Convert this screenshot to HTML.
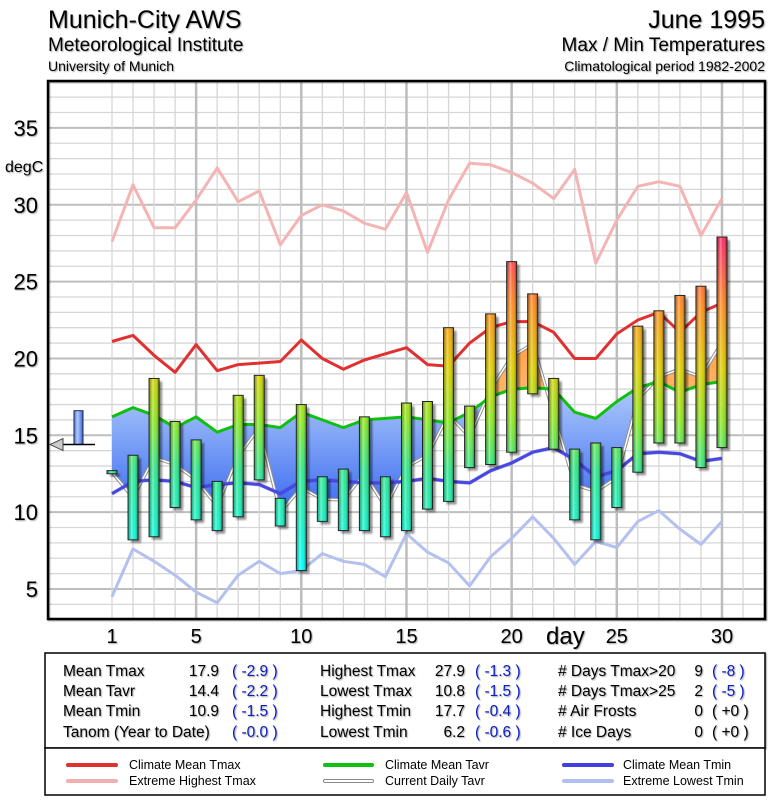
<!DOCTYPE html>
<html><head><meta charset="utf-8"><style>
body{margin:0;background:#fff;}
svg{display:block;font-family:"Liberation Sans",sans-serif;}
.sh{filter:drop-shadow(1px 1px 0.6px rgba(0,0,0,0.35));}
</style></head><body>
<svg id="chart" width="775" height="800" viewBox="0 0 775 800">
<defs>
<linearGradient id="barGrad" gradientUnits="userSpaceOnUse" x1="0" y1="574" x2="0" y2="231">
<stop offset="0" stop-color="#00ffff"/><stop offset="0.3" stop-color="#30e890"/>
<stop offset="0.45" stop-color="#90e820"/><stop offset="0.6" stop-color="#e0d000"/>
<stop offset="0.78" stop-color="#ff9020"/><stop offset="1" stop-color="#ff2070"/>
</linearGradient>
<linearGradient id="barShade" x1="0" y1="0" x2="1" y2="0">
<stop offset="0" stop-color="#000" stop-opacity="0.25"/><stop offset="0.35" stop-color="#fff" stop-opacity="0.35"/>
<stop offset="0.6" stop-color="#fff" stop-opacity="0"/><stop offset="1" stop-color="#000" stop-opacity="0.35"/>
</linearGradient>
<linearGradient id="blueFill" x1="0" y1="0" x2="0" y2="1">
<stop offset="0" stop-color="#d8ecff"/><stop offset="1" stop-color="#3a6af0"/>
</linearGradient>
<linearGradient id="orangeFill" x1="0" y1="0" x2="0" y2="1">
<stop offset="0" stop-color="#ffa040"/><stop offset="1" stop-color="#fff0d8"/>
</linearGradient>
<linearGradient id="legBar" x1="0" y1="0" x2="1" y2="0">
<stop offset="0" stop-color="#4a78e0"/><stop offset="0.4" stop-color="#b0ccff"/><stop offset="1" stop-color="#3a60d0"/>
</linearGradient>
<filter id="blur"><feGaussianBlur stdDeviation="1"/></filter>
<clipPath id="plotClip"><rect x="48" y="81" width="717" height="538"/></clipPath>
<clipPath id="belowGreen"><polygon id="belowPoly"/></clipPath>
<clipPath id="aboveGreen"><polygon id="abovePoly"/></clipPath>
</defs>

<g class="sh">
<text x="48" y="28" font-size="25">Munich-City AWS</text>
<text x="48" y="51" font-size="19">Meteorological Institute</text>
<text x="48" y="71" font-size="14">University of Munich</text>
<text x="765" y="28" font-size="25" text-anchor="end">June 1995</text>
<text x="765" y="51" font-size="19" text-anchor="end">Max / Min Temperatures</text>
<text x="765" y="71" font-size="14" text-anchor="end">Climatological period 1982-2002</text>
</g>

<g id="grid"></g>
<g id="series" clip-path="url(#plotClip)"></g>
<rect x="48" y="81" width="717" height="538" fill="none" stroke="#000" stroke-width="2.5" class="sh"/>
<g id="yticks" class="sh"></g>
<g id="xticks" class="sh"></g>
<text x="5" y="172" font-size="16" class="sh">degC</text>
<text x="546" y="644" font-size="24" class="sh">day</text>

<g>
<rect x="45" y="653" width="720" height="95" fill="#fff" stroke="#000" stroke-width="1.5" class="sh"/>
<g font-size="15.5" class="sh">
<text x="63" y="676">Mean Tmax</text><text x="219" y="676" text-anchor="end">17.9</text><text x="232" y="676" fill="#1020c0">( -2.9 )</text>
<text x="63" y="696">Mean Tavr</text><text x="219" y="696" text-anchor="end">14.4</text><text x="232" y="696" fill="#1020c0">( -2.2 )</text>
<text x="63" y="716">Mean Tmin</text><text x="219" y="716" text-anchor="end">10.9</text><text x="232" y="716" fill="#1020c0">( -1.5 )</text>
<text x="63" y="737">Tanom (Year to Date)</text><text x="232" y="737" fill="#1020c0">( -0.0 )</text>
<text x="320" y="676">Highest Tmax</text><text x="465" y="676" text-anchor="end">27.9</text><text x="475" y="676" fill="#1020c0">( -1.3 )</text>
<text x="320" y="696">Lowest Tmax</text><text x="465" y="696" text-anchor="end">10.8</text><text x="475" y="696" fill="#1020c0">( -1.5 )</text>
<text x="320" y="716">Highest Tmin</text><text x="465" y="716" text-anchor="end">17.7</text><text x="475" y="716" fill="#1020c0">( -0.4 )</text>
<text x="320" y="737">Lowest Tmin</text><text x="465" y="737" text-anchor="end">6.2</text><text x="475" y="737" fill="#1020c0">( -0.6 )</text>
<text x="558" y="676"># Days Tmax&gt;20</text><text x="703" y="676" text-anchor="end">9</text><text x="712" y="676" fill="#1020c0">( -8 )</text>
<text x="558" y="696"># Days Tmax&gt;25</text><text x="703" y="696" text-anchor="end">2</text><text x="712" y="696" fill="#1020c0">( -5 )</text>
<text x="558" y="716"># Air Frosts</text><text x="703" y="716" text-anchor="end">0</text><text x="712" y="716">( +0 )</text>
<text x="558" y="737"># Ice Days</text><text x="703" y="737" text-anchor="end">0</text><text x="712" y="737">( +0 )</text>
</g>
</g>

<g>
<rect x="45" y="748" width="720" height="47" fill="#fff" stroke="#000" stroke-width="1.5"/>
<g font-size="12.5">
<line x1="68" y1="765" x2="116" y2="765" stroke="#e03030" stroke-width="4" stroke-linecap="round"/>
<text x="129" y="769">Climate Mean Tmax</text>
<line x1="68" y1="781" x2="116" y2="781" stroke="#f0b0b0" stroke-width="4" stroke-linecap="round"/>
<text x="129" y="785">Extreme Highest Tmax</text>
<line x1="325" y1="765" x2="372" y2="765" stroke="#10c010" stroke-width="4" stroke-linecap="round"/>
<text x="385" y="769">Climate Mean Tavr</text>
<line x1="325" y1="781" x2="372" y2="781" stroke="#888" stroke-width="4" stroke-linecap="round"/>
<line x1="325" y1="781" x2="372" y2="781" stroke="#fff" stroke-width="2" stroke-linecap="round"/>
<text x="385" y="785">Current Daily Tavr</text>
<line x1="564" y1="765" x2="612" y2="765" stroke="#4040e0" stroke-width="4" stroke-linecap="round"/>
<text x="623" y="769">Climate Mean Tmin</text>
<line x1="564" y1="781" x2="612" y2="781" stroke="#b0c0f0" stroke-width="4" stroke-linecap="round"/>
<text x="623" y="785">Extreme Lowest Tmin</text>
</g>
</g>
</svg>
<script>
const days = Array.from({length:30},(_,i)=>i+1);
const tmax = [12.7,13.7,18.7,15.9,14.7,12.0,17.6,18.9,10.9,17.0,12.3,12.8,16.2,12.3,17.1,17.2,22.0,16.9,22.9,26.3,24.2,18.7,14.1,14.5,14.2,22.1,23.1,24.1,24.7,27.9];
const tmin = [12.5,8.2,8.4,10.3,9.5,8.8,9.7,12.1,9.1,6.2,9.4,8.8,8.8,8.4,8.8,10.2,10.7,12.9,13.1,13.9,17.7,14.1,9.5,8.2,10.3,12.6,14.5,14.5,12.9,14.2];
const climTmax = [21.1,21.5,20.2,19.1,20.9,19.2,19.6,19.7,19.8,21.2,20.0,19.3,19.9,20.3,20.7,19.6,19.5,21.0,22.0,22.4,22.4,21.7,20.0,20.0,21.6,22.5,23.0,21.7,23.0,23.6];
const climTavr = [16.2,16.8,16.3,15.5,16.2,15.2,15.7,15.7,15.5,16.5,16.0,15.5,16.0,16.1,16.2,16.0,15.8,16.5,17.5,18.0,18.1,18.0,16.5,16.1,17.2,18.1,18.5,17.8,18.3,18.5];
const climTmin = [11.2,12.0,12.1,12.0,11.6,11.8,11.9,11.8,11.2,12.0,12.1,12.0,11.9,11.9,12.0,12.2,12.0,11.9,12.7,13.2,13.9,14.2,13.4,12.3,12.7,13.8,13.9,13.8,13.3,13.5];
const extHigh = [27.6,31.3,28.5,28.5,30.3,32.4,30.2,30.9,27.4,29.3,30.0,29.6,28.8,28.4,30.8,26.9,30.3,32.7,32.6,32.1,31.4,30.4,32.3,26.2,29.0,31.2,31.5,31.2,28.0,30.4];
const extLow = [4.5,7.6,6.8,5.9,4.8,4.1,5.9,6.8,6.0,6.2,7.3,6.8,6.6,5.8,8.6,7.4,6.7,5.2,7.1,8.3,9.7,8.3,6.6,8.1,7.7,9.4,10.1,8.9,7.9,9.4];
const yTicks = [5,10,15,20,25,30,35];
const xTicks = [1,5,10,15,20,25,30];
const meanTavr = 14.4, climMeanTavr = 16.6;

const NS="http://www.w3.org/2000/svg";
const X = d => 112 + (d-1)*21.034;
const Y = v => 589 - (v-5)*15.37;
function mk(tag, attrs, parent){const e=document.createElementNS(NS,tag);for(const k in attrs)e.setAttribute(k,attrs[k]);parent.appendChild(e);return e;}
const grid=document.getElementById('grid'), series=document.getElementById('series');
for(let v=3;v<=38;v++){const g=mk('line',{x1:48,x2:765,y1:Y(v),y2:Y(v),stroke:v%5===0?'#bdbdbd':'#d6d6d6','stroke-width':v%5===0?2:1.3},grid);

}
for(let d=1;d<=32;d++){const g=mk('line',{x1:X(d),x2:X(d),y1:81,y2:619,stroke:d%5===0?'#bdbdbd':'#d6d6d6','stroke-width':d%5===0?2.5:1.3},grid);

}

const pts = arr => arr.map((v,i)=>X(days[i]).toFixed(1)+','+Y(v).toFixed(1));
const curTavr = tmax.map((v,i)=>(v+tmin[i])/2);
const gp=pts(climTavr), cp=pts(curTavr);
document.getElementById('belowPoly').setAttribute('points', gp.join(' ')+` ${X(30)},700 ${X(1)},700`);
document.getElementById('abovePoly').setAttribute('points', gp.join(' ')+` ${X(30)},0 ${X(1)},0`);
const between = gp.concat(cp.slice().reverse()).join(' ');
const bf=mk('polygon',{points:between,fill:'url(#blueFill)','fill-rule':'evenodd','clip-path':'url(#belowGreen)'},series);


const of=mk('polygon',{points:between,fill:'url(#orangeFill)','fill-rule':'evenodd','clip-path':'url(#aboveGreen)'},series);



function line(arr,color,w,name){const p=mk('polyline',{points:pts(arr).join(' '),fill:'none',stroke:color,'stroke-width':w,'stroke-linejoin':'round'},series);

return p;}
line(extHigh,'#f4b4b4',3,'extreme-highest-tmax-line');
line(extLow,'#b4c0f0',3,'extreme-lowest-tmin-line');
line(curTavr,'#909090',3.5,'current-tavr-outline');
line(curTavr,'#ffffff',1.5,'current-daily-tavr-line');
line(climTmin,'#2a2ab0',4,'climate-tmin-shadow').setAttribute('opacity','0.3');
line(climTmin,'#4848e0',3,'climate-mean-tmin-line');
line(climTavr,'#10c010',3,'climate-mean-tavr-line');
line(climTmax,'#e03030',3,'climate-mean-tmax-line');

days.forEach((d,i)=>{
  const x=X(d)-5, y1=Y(tmax[i]), y2=Y(tmin[i]), h=Math.max(y2-y1,3);
  const s=mk('rect',{x:x+3,y:y1+3,width:10,height:h,fill:'#000',opacity:0.45,filter:'url(#blur)'},series);
  
  
  const b=mk('rect',{x:x,y:y1,width:10,height:h,fill:'url(#barGrad)',stroke:'#222','stroke-width':1},series);
  
  
  const o=mk('rect',{x:x+0.5,y:y1+0.5,width:9,height:h-1,fill:'url(#barShade)'},series);
  
  
});
const my=Y(meanTavr), cy=Y(climMeanTavr);
const mb=mk('rect',{x:74,y:cy,width:9,height:my-cy,fill:'url(#legBar)',stroke:'#224','stroke-width':1},series);


const ml=mk('line',{x1:60,x2:95,y1:my,y2:my,stroke:'#000','stroke-width':1.5},series);


const ar=mk('polygon',{points:`50,${my} 63,${my-6} 63,${my+6}`,fill:'#ccc',stroke:'#444','stroke-width':1},series);



const yt=document.getElementById('yticks'), xt=document.getElementById('xticks');
yTicks.forEach(v=>{const t=mk('text',{x:38,y:Y(v)+8,'font-size':22,'text-anchor':'end'},yt);t.textContent=v;

});
xTicks.forEach(d=>{const t=mk('text',{x:X(d),y:643,'font-size':20,'text-anchor':'middle'},xt);t.textContent=d;

});
</script>
</body></html>
